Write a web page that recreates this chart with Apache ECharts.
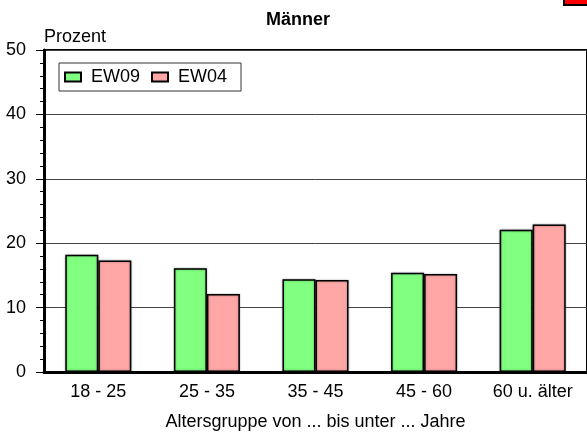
<!DOCTYPE html>
<html>
<head>
<meta charset="utf-8">
<script src="https://cdn.jsdelivr.net/npm/echarts@6/dist/echarts.min.js"></script>
<style>
  html, body { margin: 0; padding: 0; background: #fff; }
  #chart { width: 587px; height: 436px; }
</style>
</head>
<body>
<div id="chart"></div>
<script>
// Altersgruppen und Anteile (Prozent)
const categories = ['18 - 25', '25 - 35', '35 - 45', '45 - 60', '60 u. älter']
const ew09 = [18.2, 16.1, 14.4, 15.4, 22.1]
const ew04 = [17.3, 12.1, 14.3, 15.2, 22.9]
const yTicks = [0, 10, 20, 30, 40, 50]

const font = 'Liberation Sans, Arial, sans-serif'
const chart = echarts.init(document.getElementById('chart'))

const barStyle = (color) => ({
  color: color,
  borderColor: '#000',
  borderWidth: 1.5,
  shadowColor: 'rgba(0,0,0,0.35)',
  shadowBlur: 2
})

const option = {
  backgroundColor: '#fff',
  animation: false,
  textStyle: { fontFamily: font },
  title: {
    text: 'Männer',
    left: 293,
    textAlign: 'center',
    top: 6,
    textStyle: { fontSize: 18, fontWeight: 'bold', color: '#000', fontFamily: font }
  },
  legend: {
    left: 59,
    top: 63,
    padding: [5, 14, 5, 5],
    itemGap: 11,
    itemWidth: 16,
    itemHeight: 9,
    icon: 'rect',
    borderColor: '#333',
    borderWidth: 1,
    textStyle: { fontSize: 18, color: '#000', padding: [0, 0, 0, 5] },
    data: ['EW09', 'EW04']
  },
  grid: {
    left: 44,
    top: 50,
    width: 548,
    height: 323,
    show: true,
    borderColor: '#000',
    borderWidth: 2,
    backgroundColor: 'transparent'
  },
  xAxis: {
    type: 'category',
    data: categories,
    axisTick: { show: false },
    axisLine: { lineStyle: { color: '#000', width: 3 } },
    axisLabel: { fontSize: 18, color: '#000', margin: 11 },
    name: 'Altersgruppe von ... bis unter ... Jahre',
    nameLocation: 'middle',
    nameGap: 41,
    nameTextStyle: { fontSize: 18, color: '#000' }
  },
  yAxis: {
    type: 'value',
    min: yTicks[0],
    max: yTicks[yTicks.length - 1],
    interval: 10,
    name: 'Prozent',
    nameLocation: 'end',
    nameGap: 4,
    nameTextStyle: { fontSize: 18, color: '#000', align: 'left', verticalAlign: 'bottom' },
    axisLine: { show: true, lineStyle: { color: '#000', width: 3 } },
    axisTick: { show: true, length: 8, lineStyle: { color: '#000' } },
    minorTick: { show: true, splitNumber: 5, length: 4, lineStyle: { color: '#000' } },
    axisLabel: { fontSize: 18, color: '#000', margin: 18 },
    splitLine: { show: true, lineStyle: { color: '#444', width: 1 } }
  },
  graphic: [
    {
      type: 'rect',
      left: 563,
      top: -5,
      shape: { width: 30, height: 9 },
      style: { fill: '#ff0000', stroke: '#000', lineWidth: 2 }
    }
  ],
  series: [
    {
      name: 'EW09',
      type: 'bar',
      data: ew09,
      barWidth: 33,
      barGap: '0%',
      itemStyle: barStyle('#80ff80')
    },
    {
      name: 'EW04',
      type: 'bar',
      data: ew04,
      barWidth: 33,
      itemStyle: barStyle('#ffa6a6')
    }
  ]
}
chart.setOption(option)
</script>
</body>
</html>
